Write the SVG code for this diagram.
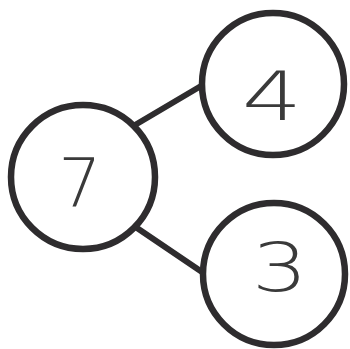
<svg xmlns="http://www.w3.org/2000/svg" width="350" height="349" viewBox="0 0 350 349">
<style>
.c{fill:none;stroke:#2e2c2e;stroke-width:6.5}
.l{stroke:#2e2c2e;stroke-width:6;stroke-linecap:round}
.t{font-family:"DejaVu Sans","Liberation Sans",sans-serif;font-weight:200;font-size:68px;fill:#3a3a3a;text-anchor:middle}
</style>
<rect width="350" height="349" fill="#fff"/>
<g id="connectors">
<line class="l" x1="135" y1="125" x2="201" y2="86"/>
<line class="l" x1="137" y1="228" x2="202" y2="272"/>
</g>
<g id="n7"><circle class="c" cx="83" cy="177" r="72"/><text class="t" x="80" y="207">7</text></g>
<g id="n4"><circle class="c" cx="273" cy="84" r="71"/><text class="t" transform="translate(272 120) scale(1.4 1)" x="0" y="0">4</text></g>
<g id="n3"><circle class="c" cx="274" cy="274" r="71"/><text class="t" transform="translate(280 291) scale(1.3 1)" x="0" y="0">3</text></g>
</svg>
